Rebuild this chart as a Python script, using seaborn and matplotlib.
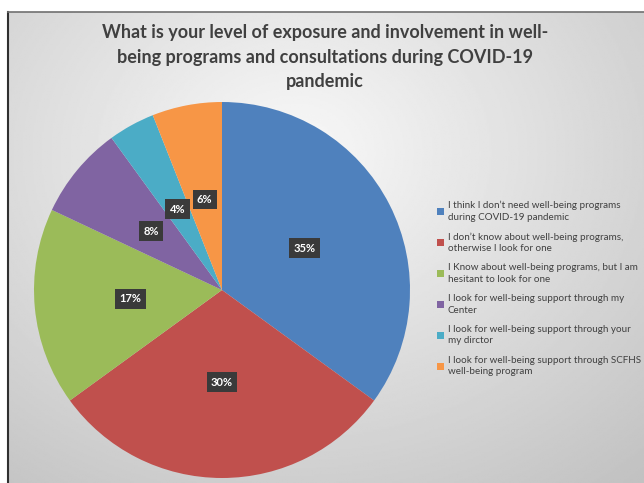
import numpy as np
import seaborn as sns
import matplotlib.pyplot as plt

# survey answers, share in percent
answers = [
    "I think I don\u2019t need well-being programs\nduring COVID-19 pandemic",
    "I don\u2019t know about well-being programs,\notherwise I look for one",
    "I Know about well-being programs, but I am\nhesitant to look for one",
    "I look for well-being support through my\nCenter",
    "I look for well-being support through your\nmy dirctor",
    "I look for well-being support through SCFHS\nwell-being program",
]
shares = [35, 30, 17, 8, 4, 6]
colors = ["#4F81BD", "#C0504D", "#9BBB59", "#8064A2", "#4BACC6", "#F79646"]

title = ("What is your level of exposure and involvement in well-\n"
         "being programs and consultations during COVID-19\npandemic")

sns.set_theme(style="white")
plt.rcParams["font.family"] = ["Lato", "DejaVu Sans"]

W, H = 644, 483
fig = plt.figure(figsize=(W / 100, H / 100), dpi=100)
fig.patch.set_facecolor("white")

# grey gradient backdrop inside the chart frame
bg = fig.add_axes([8 / W, 0, 1 - 8 / W, (H - 12) / H])
yy, xx = np.mgrid[0:1:300j, 0:1:400j]
d = np.sqrt(((xx - 0.45) / 1.0) ** 2 + ((yy - 0.3) / 1.1) ** 2)
shade = np.clip(0.975 - 0.26 * d, 0.76, 0.975)
bg.imshow(shade, cmap="gray", vmin=0, vmax=1, aspect="auto",
          extent=[0, 1, 0, 1], origin="upper")
bg.set_xticks([])
bg.set_yticks([])
for side in ["right", "bottom"]:
    bg.spines[side].set_visible(False)
bg.spines["left"].set_color("#303030")
bg.spines["left"].set_linewidth(1.5)
bg.spines["top"].set_color("#707070")
bg.spines["top"].set_linewidth(1.2)

fig.text(325 / W, 1 - 57 / H, title, ha="center", va="center",
         fontsize=13, fontweight="bold", color="#404040", linespacing=1.55)

# pie
cx, cy, r = 222, 290, 188
ax = fig.add_axes([(cx - r) / W, (H - cy - r) / H, 2 * r / W, 2 * r / H])
wedges, _, autotexts = ax.pie(
    shares, colors=colors, startangle=90, counterclock=False,
    autopct="%d%%", pctdistance=0.49,
    wedgeprops=dict(linewidth=0),
    textprops=dict(color="white", fontsize=8, fontweight="bold"))
for t in autotexts:
    t.set_bbox(dict(boxstyle="square,pad=0.4", facecolor="#3a3a3a",
                    edgecolor="none"))
ax.set_xlim(-1, 1)
ax.set_ylim(-1, 1)
ax.set_aspect("equal")
ax.axis("off")

leg = fig.legend(wedges, answers, loc="upper left",
                 bbox_to_anchor=(433 / W, 1 - 197 / H),
                 frameon=False, fontsize=7.1, labelcolor="#404040",
                 handlelength=0.7, handleheight=0.7, handletextpad=0.4,
                 labelspacing=1.05, borderaxespad=0)
for t in leg.get_texts():
    t.set_linespacing(1.35)

fig.savefig("out.png", dpi=100)
